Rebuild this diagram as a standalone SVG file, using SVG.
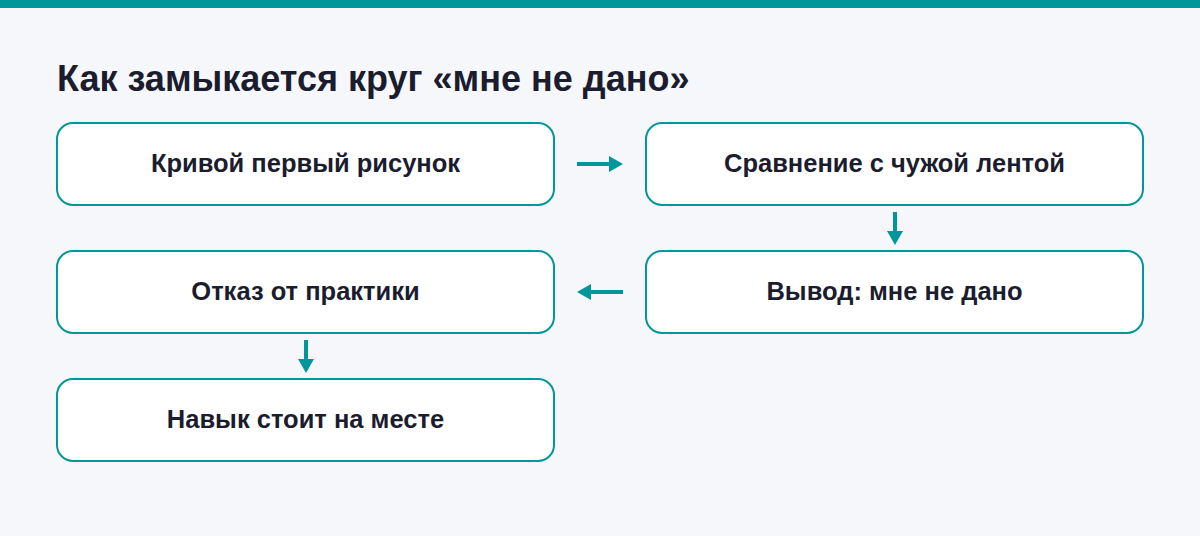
<svg xmlns="http://www.w3.org/2000/svg" width="1200" height="536" viewBox="0 0 1200 536">
<style>
.b{fill:#fff;stroke:#00979a;stroke-width:2}
.t{font-family:"Liberation Sans",Arial,sans-serif;font-weight:bold;font-size:25.5px;fill:#1b1d2e;text-anchor:middle}
.c{stroke:#00979a;stroke-width:4;fill:none}
</style>
<defs><marker id="a" markerWidth="4" markerHeight="4" refX="0" refY="2" orient="auto" markerUnits="strokeWidth"><path d="M0,0L3.5,2L0,4Z" fill="#00979a"/></marker></defs>
<rect width="1200" height="536" fill="#f6f7fb"/>
<rect width="1200" height="8" fill="#00979a"/>
<text x="57" y="91" font-family="Liberation Sans,Arial,sans-serif" font-weight="bold" font-size="36" fill="#1b1d2e">Как замыкается круг «мне не дано»</text>
<g id="n1"><rect class="b" x="57" y="123" width="497" height="82" rx="16"/><text class="t" x="305.5" y="172">Кривой первый рисунок</text></g>
<g id="n2"><rect class="b" x="646" y="123" width="497" height="82" rx="16"/><text class="t" x="894.5" y="172">Сравнение с чужой лентой</text></g>
<g id="n3"><rect class="b" x="646" y="251" width="497" height="82" rx="16"/><text class="t" x="894.5" y="300">Вывод: мне не дано</text></g>
<g id="n4"><rect class="b" x="57" y="251" width="497" height="82" rx="16"/><text class="t" x="305.5" y="300">Отказ от практики</text></g>
<g id="n5"><rect class="b" x="57" y="379" width="497" height="82" rx="16"/><text class="t" x="305.5" y="428">Навык стоит на месте</text></g>
<g id="connectors">
<path class="c" d="M577,164H609" marker-end="url(#a)"/>
<path class="c" d="M895,212V231" marker-end="url(#a)"/>
<path class="c" d="M623,292H591" marker-end="url(#a)"/>
<path class="c" d="M306,340V359" marker-end="url(#a)"/>
</g>
</svg>
